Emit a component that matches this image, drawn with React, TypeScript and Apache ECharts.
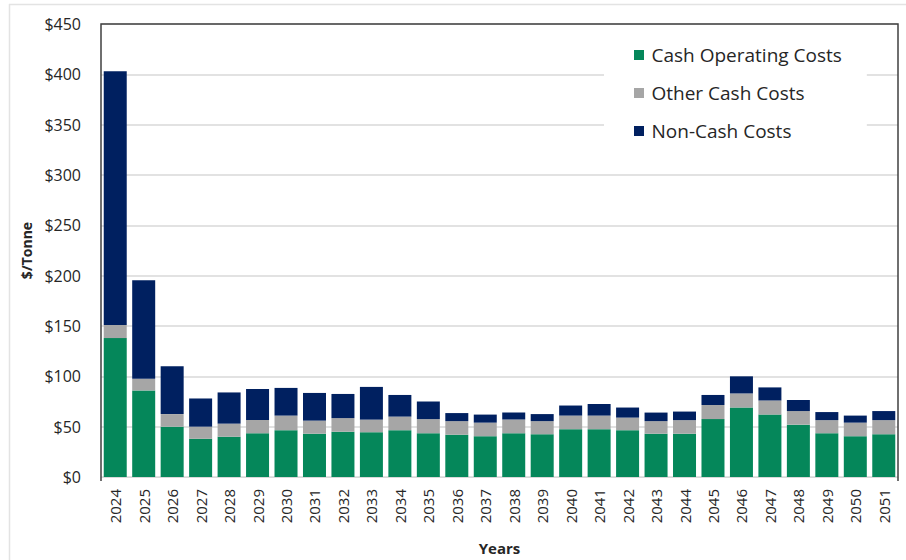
import React, { useEffect, useRef } from "react";
import * as echarts from "echarts";

const years = ["2024","2025","2026","2027","2028","2029","2030","2031","2032","2033","2034","2035","2036","2037","2038","2039","2040","2041","2042","2043","2044","2045","2046","2047","2048","2049","2050","2051"];
const cashOperating = [138, 86, 50, 38, 40, 43.5, 46.5, 43, 45, 44.5, 46.5, 43.5, 42, 40.5, 43.5, 42.5, 47.5, 47.5, 46.5, 43, 43, 57.5, 69, 62, 52, 43.5, 40.5, 42.5];
const otherCash = [13, 11.5, 12.5, 12, 13, 13, 14.5, 13, 13.5, 12.5, 13.5, 14, 13.5, 13.5, 13.5, 13, 13.5, 13.5, 12.5, 12.5, 13.5, 14, 14, 14, 13.5, 13, 13.5, 14];
const nonCash = [252, 98, 47.5, 28, 31, 31, 27.5, 27.5, 24, 32.5, 21.5, 17.5, 8, 8, 7, 7, 10, 11.5, 10, 8.5, 8.5, 10, 17, 13, 11, 8, 7, 9];

const FONT = "Open Sans";

export default function App() {
  const ref = useRef<HTMLDivElement>(null);
  useEffect(() => {
    const chart = echarts.init(ref.current!, null, { renderer: "svg" });
    const L = 101, T = 24, R = 898, B = 481;
    chart.setOption({
      animation: false,
      backgroundColor: "#ffffff",
      textStyle: { fontFamily: FONT },
      grid: { left: L, top: T, width: R - L, height: B - T, containLabel: false },
      legend: {
        orient: "vertical",
        left: 604,
        top: 26,
        backgroundColor: "#ffffff",
        padding: [19, 25, 11, 30],
        itemWidth: 15,
        itemHeight: 10,
        itemGap: 18,
        icon: "path://M0,0H10V10H0Z",
        symbolKeepAspect: true,
        textStyle: { fontFamily: FONT, fontSize: 19, color: "#262626", lineHeight: 20 },
        data: ["Cash Operating Costs", "Other Cash Costs", "Non-Cash Costs"],
        z: 5,
      },
      xAxis: {
        type: "category",
        data: years,
        name: "Years",
        nameLocation: "middle",
        nameGap: 63,
        nameTextStyle: { fontFamily: FONT, fontSize: 15, fontWeight: "bold", color: "#262626" },
        axisLine: { show: true, lineStyle: { color: "#D9D9D9", width: 1 } },
        axisTick: { show: false },
        axisLabel: { interval: 0, rotate: 90, margin: 12, fontFamily: FONT, fontSize: 15, color: "#262626" },
      },
      yAxis: {
        type: "value",
        min: 0,
        max: 450,
        interval: 50,
        name: "$/Tonne",
        nameLocation: "middle",
        nameGap: 61,
        nameTextStyle: { fontFamily: FONT, fontSize: 14, fontWeight: "bold", color: "#262626" },
        axisLine: { show: false },
        axisTick: { show: false },
        axisLabel: { margin: 20, fontFamily: FONT, fontSize: 16, color: "#262626", formatter: (v: number) => "$" + v },
        splitLine: { show: true, lineStyle: { color: "#D9D9D9", width: 1.5 } },
      },
      graphic: [
        { type: "line", shape: { x1: 9, y1: 4.5, x2: 906, y2: 4.5 }, style: { stroke: "#E3E3E3", lineWidth: 1.5 }, z: 0 },
        { type: "line", shape: { x1: 9.5, y1: 4, x2: 9.5, y2: 560 }, style: { stroke: "#E3E3E3", lineWidth: 1.5 }, z: 0 },
        { type: "polyline", shape: { points: [[L, B], [L, T], [R, T], [R, B]] }, style: { stroke: "#404040", lineWidth: 1.5, fill: null }, z: 3 },
      ],
      series: [
        { name: "Cash Operating Costs", type: "bar", stack: "cost", barWidth: 23, data: cashOperating, itemStyle: { color: "#05875A" } },
        { name: "Other Cash Costs", type: "bar", stack: "cost", barWidth: 23, data: otherCash, itemStyle: { color: "#A6A6A6" } },
        { name: "Non-Cash Costs", type: "bar", stack: "cost", barWidth: 23, data: nonCash, itemStyle: { color: "#002060" } },
      ],
    });
    return () => chart.dispose();
  }, []);
  return <div ref={ref} style={{ position: "fixed", left: 0, top: 0, width: 906, height: 560 }} />;
}
